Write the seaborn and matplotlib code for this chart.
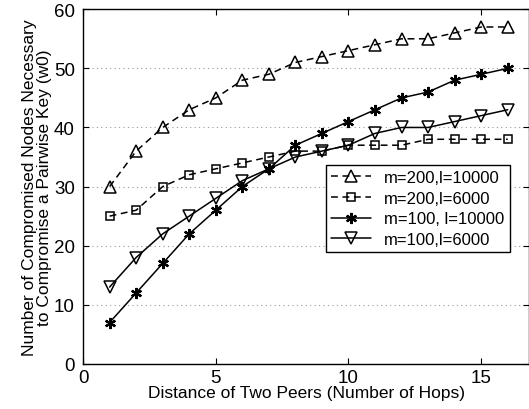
import numpy as np
import pandas as pd
import matplotlib
matplotlib.use("Agg")
import matplotlib.pyplot as plt
import seaborn as sns

# ==================================================
# DATA
# ==================================================

hops = list(range(1, 17))

m200_l10000 = [30, 36, 40, 43, 45, 48, 49, 51, 52, 53, 54, 55, 55, 56, 57, 57]
m200_l6000 = [25, 26, 30, 32, 33, 34, 35, 36, 36, 37, 37, 37, 38, 38, 38, 38]
m100_l10000 = [7, 12, 17, 22, 26, 30, 33, 37, 39, 41, 43, 45, 46, 48, 49, 50]
m100_l6000 = [13, 18, 22, 25, 28, 31, 33, 35, 36, 37, 39, 40, 40, 41, 42, 43]

labels = ["m=200,l=10000", "m=200,l=6000", "m=100, l=10000", "m=100,l=6000"]
series = [m200_l10000, m200_l6000, m100_l10000, m100_l6000]

# ==================================================
# STYLE
# ==================================================

sns.set_style("ticks")
plt.rcParams["font.family"] = ["Liberation Sans", "DejaVu Sans"]
plt.rcParams["xtick.direction"] = "in"
plt.rcParams["ytick.direction"] = "in"
plt.rcParams["text.color"] = "black"
plt.rcParams["axes.labelcolor"] = "black"
plt.rcParams["xtick.color"] = "black"
plt.rcParams["ytick.color"] = "black"

fig, ax = plt.subplots(figsize=(5.29, 4.10), dpi=100)
fig.subplots_adjust(left=0.157, right=1.0, top=0.975, bottom=0.11)

markers = ["^", "s", (6, 2, 0), "v"]
styles = [(0, (4.5, 3)), (0, (4.5, 3)), "-", "-"]
sizes = [9, 6, 8, 9]
faces = ["none", "none", "black", "none"]
edgew = [1.1, 1.1, 1.6, 1.1]

for vals, lab, mk, ls, ms, fc, ew in zip(series, labels, markers, styles, sizes, faces, edgew):
    sns.lineplot(
        x=hops,
        y=vals,
        ax=ax,
        color="black",
        linestyle=ls,
        linewidth=1.1,
        marker=mk,
        markersize=ms,
        markerfacecolor=fc,
        markeredgecolor="black",
        markeredgewidth=ew,
        label=lab,
    )

ax.set_xlim(0, 16.8)
ax.set_ylim(0, 60)
ax.set_xticks([0, 5, 10, 15])
ax.set_yticks([0, 10, 20, 30, 40, 50, 60])
ax.yaxis.grid(True, linestyle=(0, (1, 3)), color="#999999", linewidth=0.8)
ax.tick_params(labelsize=13.5, top=True, right=True, length=4, width=0.8)
ax.tick_params(axis="x", pad=4)
ax.tick_params(axis="y", pad=6)
for s in ax.spines.values():
    s.set_linewidth(1.0)
    s.set_color("black")

ax.set_xlabel("Distance of Two Peers (Number of Hops)", fontsize=12.5, labelpad=-1)
ax.set_ylabel(
    "Number of Compromised Nodes Necessary\nto Compromise a Pairwise Key (w0)",
    fontsize=12.5,
    labelpad=1,
    linespacing=1.0,
)

leg = ax.legend(
    loc="upper right",
    bbox_to_anchor=(0.975, 0.585),
    fontsize=12,
    frameon=True,
    fancybox=False,
    edgecolor="black",
    framealpha=1,
    handlelength=2.4,
    handletextpad=0.8,
    borderpad=0.3,
    labelspacing=0.35,
)
leg.get_frame().set_linewidth(1.0)

plt.savefig("out.png", dpi=100)
